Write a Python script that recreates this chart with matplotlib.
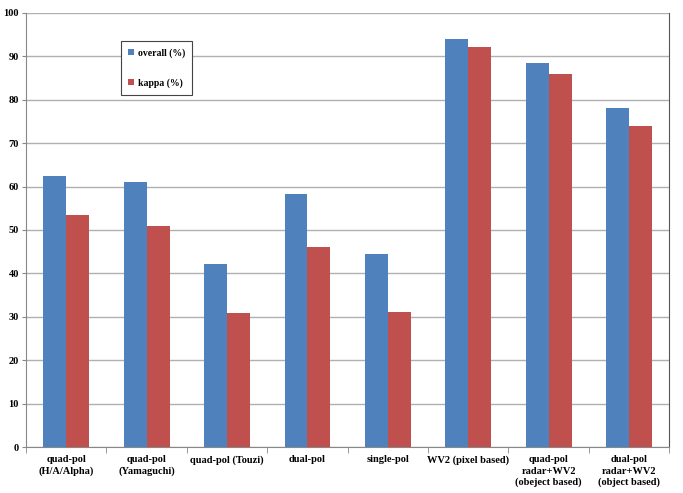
import numpy as np
from matplotlib import pyplot as plt

categories = [
    "quad-pol\n(H/A/Alpha)",
    "quad-pol\n(Yamaguchi)",
    "quad-pol (Touzi)",
    "dual-pol",
    "single-pol",
    "WV2 (pixel based)",
    "quad-pol\nradar+WV2\n(obeject based)",
    "dual-pol\nradar+WV2\n(object based)",
]
overall = [62.4, 61.0, 42.2, 58.4, 44.5, 94.0, 88.5, 78.2]
kappa = [53.5, 51.0, 31.0, 46.0, 31.2, 92.2, 85.8, 74.0]

plt.rcParams["font.family"] = ["Liberation Serif", "DejaVu Serif"]
plt.rcParams["font.weight"] = "bold"

fig = plt.figure(figsize=(6.83, 4.93), dpi=100)
ax = fig.add_axes([0.038, 0.093, 0.942, 0.881])

x = np.arange(len(categories))
w = 0.285
ax.bar(x - w / 2, overall, w, color="#4F81BD", label="overall (%)", zorder=3)
ax.bar(x + w / 2, kappa, w, color="#C0504D", label="kappa (%)", zorder=3)

ax.set_xlim(-0.5, len(categories) - 0.5)
ax.set_ylim(0, 100)
ax.set_yticks(range(0, 101, 10))
ax.tick_params(axis="y", labelsize=7.5, length=3, color="#888888", pad=2)
ax.yaxis.grid(True, color="#b0b0b0", linewidth=1, zorder=0)

# category labels sit between the boundary ticks
ax.set_xticks(x)
ax.set_xticklabels(categories, fontsize=7.5, linespacing=1.3)
ax.tick_params(axis="x", length=0, pad=6)
ax.set_xticks(np.arange(-0.5, len(categories), 1), minor=True)
ax.tick_params(axis="x", which="minor", length=4, color="#888888")

for s in ["left", "bottom"]:
    ax.spines[s].set_color("#888888")
ax.spines["top"].set_visible(False)
ax.spines["right"].set_color("#555555")

leg = ax.legend(
    loc="upper left",
    bbox_to_anchor=(0.147, 0.935),
    fontsize=7,
    labelspacing=2.1,
    handlelength=0.6,
    handleheight=0.6,
    handletextpad=0.4,
    borderpad=0.75,
    borderaxespad=0,
    fancybox=False,
    framealpha=1,
)
leg.get_frame().set_edgecolor("#444444")
leg.get_frame().set_linewidth(0.8)

fig.savefig("out.png", dpi=100)
